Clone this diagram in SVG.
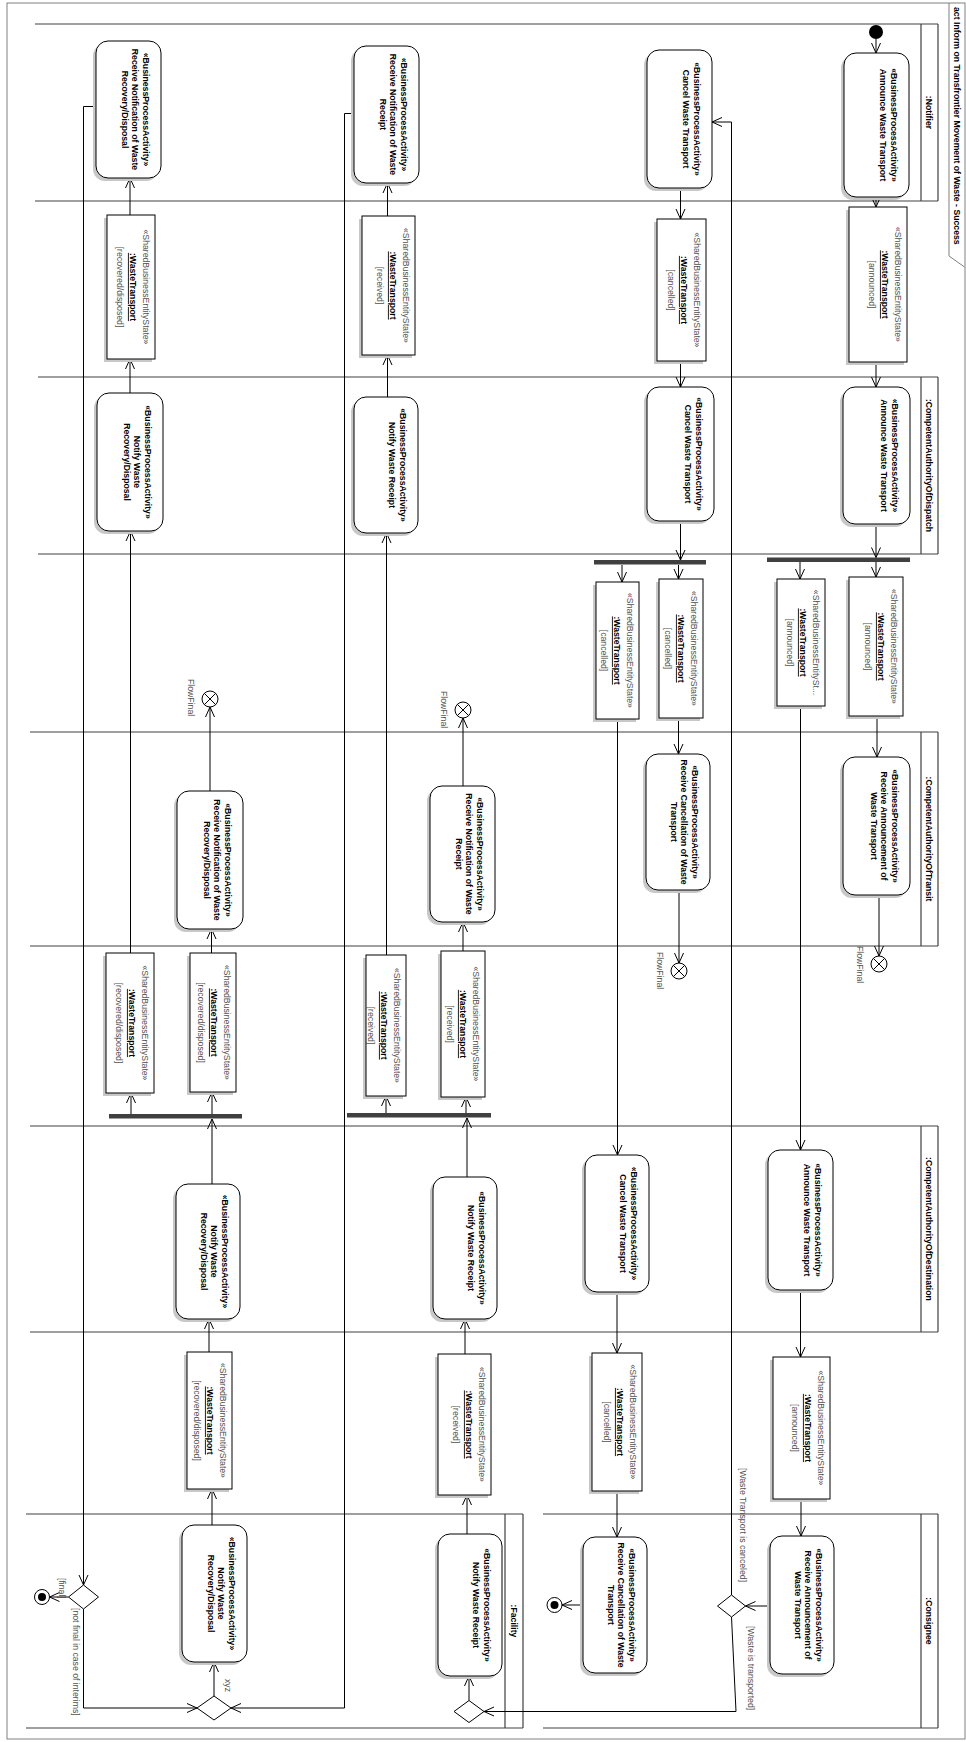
<svg xmlns="http://www.w3.org/2000/svg" width="966" height="1742" viewBox="0 0 966 1742">
<defs>
<style>
.frame{fill:none;stroke:#808080;stroke-width:1}
.lane{fill:none;stroke:#404040;stroke-width:1.2}
.sh{fill:#c8c8c8}
.act{fill:#fff;stroke:#000;stroke-width:1}
.obj{fill:#fff;stroke:#000;stroke-width:1}
.t{font-family:"Liberation Sans",Arial,sans-serif;font-size:8.7px;fill:#000}
.b{font-weight:bold}
.g{fill:#505050}
.u{text-decoration:underline}
.c{fill:none;stroke:#000;stroke-width:1;marker-end:url(#a)}
.bar{fill:#404040}
.ff{fill:#fff;stroke:#000;stroke-width:1}
</style>
<marker id="a" markerUnits="userSpaceOnUse" markerWidth="12" markerHeight="12" viewBox="-11 -6 12 12" refX="0" refY="0" orient="auto"><path d="M-10,-4.5 L0,0 L-10,4.5" fill="none" stroke="#000" stroke-width="1"/></marker>
</defs>
<rect width="966" height="1742" fill="#fff"/>
<g id="frame">
<rect class="frame" x="7" y="3" width="958" height="1736"/>
<path class="frame" d="M949,3 V256 L964.5,267"/>
<text class="t b" transform="rotate(90)" x="7" y="-954" font-size="8.8px">act Inform on Transfrontier Movement of Waste - Success</text>
</g>
<g id="lanes">
<path class="lane" d="M35,24 H938 M35,201 H938 M921,24 V201 M938,24 V201"/>
<path class="lane" d="M38,377 H938 M38,554 H938 M921,377 V554 M938,377 V554"/>
<path class="lane" d="M30,732 H938 M30,946 H938 M921,732 V946 M938,732 V946"/>
<path class="lane" d="M30,1126 H938 M30,1332 H938 M921,1126 V1332 M938,1126 V1332"/>
<path class="lane" d="M26,1514 H523 M26,1728 H523 M505,1514 V1728 M523,1514 V1728"/>
<path class="lane" d="M543,1514 H938 M543,1728 H938 M921,1514 V1728 M938,1514 V1728"/>
<g class="t b" text-anchor="middle">
<text transform="rotate(90)" x="112.5" y="-926.3">:Notifier</text>
<text transform="rotate(90)" x="465.5" y="-926.3">:CompetentAuthorityOfDispatch</text>
<text transform="rotate(90)" x="839" y="-926.3">:CompetentAuthorityOfTransit</text>
<text transform="rotate(90)" x="1229" y="-926.3">:CompetentAuthorityOfDestination</text>
<text transform="rotate(90)" x="1621" y="-510.8">:Facility</text>
<text transform="rotate(90)" x="1621" y="-926.3">:Consignee</text>
</g>
</g>
<g id="connectors">
<path class="c" d="M876,39 V53"/>
<path class="c" d="M876,197 V207"/>
<path class="c" d="M876,362 V387"/>
<path class="c" d="M876,524 V557.5"/>
<path class="c" d="M876,562 V577"/>
<path class="c" d="M800,562 V579"/>
<path class="c" d="M877,716 V757"/>
<path class="c" d="M879,895 V956"/>
<path class="c" d="M800.5,706 V1150"/>
<path class="c" d="M800.5,1290 V1357"/>
<path class="c" d="M801,1499 V1536"/>
<path class="c" d="M770,1606 H745.5"/>
<path class="c" d="M731.5,1595 V122 H712"/>
<path class="c" d="M731.5,1617 L736,1711.5 H484"/>
<path class="c" d="M680.5,188 V219"/>
<path class="c" d="M680.5,361 V387"/>
<path class="c" d="M680.5,521 V560"/>
<path class="c" d="M678.5,565 V579"/>
<path class="c" d="M622,565 V582"/>
<path class="c" d="M678.5,718 V754"/>
<path class="c" d="M679,890 V963"/>
<path class="c" d="M617.5,719 V1155"/>
<path class="c" d="M617,1292 V1353"/>
<path class="c" d="M617,1491 V1537"/>
<path class="c" d="M583,1605 H562"/>
<path class="c" d="M469,1700.5 V1676"/>
<path class="c" d="M467,1534 V1495"/>
<path class="c" d="M465,1354 V1319"/>
<path class="c" d="M467,1177 V1118"/>
<path class="c" d="M466,1113 V1097"/>
<path class="c" d="M386,1113 V1096"/>
<path class="c" d="M463,951 V922"/>
<path class="c" d="M463,786 V718"/>
<path class="c" d="M386.5,955 V533"/>
<path class="c" d="M387.5,397 V355"/>
<path class="c" d="M387.5,216 V183"/>
<path class="c" d="M354,113.5 H344.5 V1708 H231"/>
<path class="c" d="M214,1696 V1662"/>
<path class="c" d="M212,1525 V1489"/>
<path class="c" d="M209,1352 V1319"/>
<path class="c" d="M212,1184 V1119"/>
<path class="c" d="M212,1114 V1092"/>
<path class="c" d="M131,1114 V1093"/>
<path class="c" d="M211.5,953 V929"/>
<path class="c" d="M210,791 V707"/>
<path class="c" d="M130.5,953 V531"/>
<path class="c" d="M130,393 V359"/>
<path class="c" d="M130,215 V178"/>
<path class="c" d="M96,106.5 H83.5 V1585"/>
<path class="c" d="M68.5,1597 H49.5"/>
<path class="c" d="M83.5,1609 V1708 H197"/>
<g class="t g">
<text transform="rotate(90)" x="1468" y="-739.5">[Waste Transport is canceled]</text>
<text transform="rotate(90)" x="1626" y="-747.5">[Waste is transported]</text>
<text transform="rotate(90)" x="1578" y="-58.5">[final]</text>
<text transform="rotate(90)" x="1608" y="-72.5">[not final in case of interims]</text>
<text transform="rotate(90)" x="1679" y="-225">xyz</text>
</g>
</g>
<g id="initial"><circle cx="876" cy="32" r="7" fill="#000"/></g>
<g id="n_announce">
<rect class="sh" x="841" y="56" width="65" height="144" rx="12"/><rect class="act" x="844" y="53" width="65" height="144" rx="12"/>
<text class="t b" transform="rotate(90)" text-anchor="middle"><tspan x="125" y="-891">«BusinessProcessActivity»</tspan><tspan x="125" y="-880.3">Announce Waste Transport</tspan></text>
</g>
<g id="n_cancel">
<rect class="sh" x="644" y="53" width="65" height="138" rx="12"/><rect class="act" x="647" y="50" width="65" height="138" rx="12"/>
<text class="t b" transform="rotate(90)" text-anchor="middle"><tspan x="119" y="-694">«BusinessProcessActivity»</tspan><tspan x="119" y="-683.3">Cancel Waste Transport</tspan></text>
</g>
<g id="n_recv_receipt">
<rect class="sh" x="351" y="49" width="65" height="137" rx="12"/><rect class="act" x="354" y="46" width="65" height="137" rx="12"/>
<text class="t b" transform="rotate(90)" text-anchor="middle"><tspan x="114.5" y="-401">«BusinessProcessActivity»</tspan><tspan x="114.5" y="-390.3">Receive Notification of Waste</tspan><tspan x="114.5" y="-379.6">Receipt</tspan></text>
</g>
<g id="n_recv_recovery">
<rect class="sh" x="93" y="44" width="65" height="137" rx="12"/><rect class="act" x="96" y="41" width="65" height="137" rx="12"/>
<text class="t b" transform="rotate(90)" text-anchor="middle"><tspan x="109.5" y="-143">«BusinessProcessActivity»</tspan><tspan x="109.5" y="-132.3">Receive Notification of Waste</tspan><tspan x="109.5" y="-121.6">Recovery/Disposal</tspan></text>
</g>
<g id="o_ann1">
<rect class="sh" x="846" y="210" width="58" height="155"/><rect class="obj" x="849" y="207" width="58" height="155"/>
<text class="t" transform="rotate(90)" text-anchor="middle"><tspan class="g" x="284.5" y="-894.5">«SharedBusinessEntityState»</tspan><tspan class="b u" x="284.5" y="-881.8">:WasteTransport</tspan><tspan class="g" x="284.5" y="-869.1">[announced]</tspan></text>
</g>
<g id="o_can1">
<rect class="sh" x="654" y="222" width="49" height="142"/><rect class="obj" x="657" y="219" width="49" height="142"/>
<text class="t" transform="rotate(90)" text-anchor="middle"><tspan class="g" x="290" y="-693.5">«SharedBusinessEntityState»</tspan><tspan class="b u" x="290" y="-680.8">:WasteTransport</tspan><tspan class="g" x="290" y="-668.1">[cancelled]</tspan></text>
</g>
<g id="o_rec1">
<rect class="sh" x="359" y="219" width="53" height="139"/><rect class="obj" x="362" y="216" width="53" height="139"/>
<text class="t" transform="rotate(90)" text-anchor="middle"><tspan class="g" x="285.5" y="-402.5">«SharedBusinessEntityState»</tspan><tspan class="b u" x="285.5" y="-389.8">:WasteTransport</tspan><tspan class="g" x="285.5" y="-377.1">[received]</tspan></text>
</g>
<g id="o_rd1">
<rect class="sh" x="104" y="218" width="48" height="144"/><rect class="obj" x="107" y="215" width="48" height="144"/>
<text class="t" transform="rotate(90)" text-anchor="middle"><tspan class="g" x="287" y="-142.5">«SharedBusinessEntityState»</tspan><tspan class="b u" x="287" y="-129.8">:WasteTransport</tspan><tspan class="g" x="287" y="-117.1">[recovered/disposed]</tspan></text>
</g>
<g id="d_announce">
<rect class="sh" x="840" y="390" width="67" height="137" rx="12"/><rect class="act" x="843" y="387" width="67" height="137" rx="12"/>
<text class="t b" transform="rotate(90)" text-anchor="middle"><tspan x="455.5" y="-892">«BusinessProcessActivity»</tspan><tspan x="455.5" y="-881.3">Announce Waste Transport</tspan></text>
</g>
<g id="d_cancel">
<rect class="sh" x="644" y="390" width="67" height="134" rx="12"/><rect class="act" x="647" y="387" width="67" height="134" rx="12"/>
<text class="t b" transform="rotate(90)" text-anchor="middle"><tspan x="454" y="-696">«BusinessProcessActivity»</tspan><tspan x="454" y="-685.3">Cancel Waste Transport</tspan></text>
</g>
<g id="d_notify_receipt">
<rect class="sh" x="351" y="400" width="64" height="136" rx="12"/><rect class="act" x="354" y="397" width="64" height="136" rx="12"/>
<text class="t b" transform="rotate(90)" text-anchor="middle"><tspan x="465" y="-400">«BusinessProcessActivity»</tspan><tspan x="465" y="-389.3">Notify Waste Receipt</tspan></text>
</g>
<g id="d_notify_recovery">
<rect class="sh" x="94" y="396" width="66" height="138" rx="12"/><rect class="act" x="97" y="393" width="66" height="138" rx="12"/>
<text class="t b" transform="rotate(90)" text-anchor="middle"><tspan x="462" y="-145">«BusinessProcessActivity»</tspan><tspan x="462" y="-134.3">Notify Waste</tspan><tspan x="462" y="-123.6">Recovery/Disposal</tspan></text>
</g>
<g id="fork1"><rect class="bar" x="767" y="557.5" width="143" height="4.5"/></g>
<g id="fork2"><rect class="bar" x="594" y="560" width="112" height="4.5"/></g>
<g id="o_ann2">
<rect class="sh" x="846" y="580" width="54" height="139"/><rect class="obj" x="849" y="577" width="54" height="139"/>
<text class="t" transform="rotate(90)" text-anchor="middle"><tspan class="g" x="646.5" y="-890.5">«SharedBusinessEntityState»</tspan><tspan class="b u" x="646.5" y="-877.8">:WasteTransport</tspan><tspan class="g" x="646.5" y="-865.1">[announced]</tspan></text>
</g>
<g id="o_ann3">
<rect class="sh" x="774" y="582" width="48" height="127"/><rect class="obj" x="777" y="579" width="48" height="127"/>
<text class="t" transform="rotate(90)" text-anchor="middle"><tspan class="g" x="642.5" y="-812.5">«SharedBusinessEntitySt...</tspan><tspan class="b u" x="642.5" y="-799.8">:WasteTransport</tspan><tspan class="g" x="642.5" y="-787.1">[announced]</tspan></text>
</g>
<g id="o_can2">
<rect class="sh" x="656" y="582" width="44" height="139"/><rect class="obj" x="659" y="579" width="44" height="139"/>
<text class="t" transform="rotate(90)" text-anchor="middle"><tspan class="g" x="648.5" y="-690.5">«SharedBusinessEntityState»</tspan><tspan class="b u" x="648.5" y="-677.8">:WasteTransport</tspan><tspan class="g" x="648.5" y="-665.1">[cancelled]</tspan></text>
</g>
<g id="o_can3">
<rect class="sh" x="593" y="585" width="43" height="137"/><rect class="obj" x="596" y="582" width="43" height="137"/>
<text class="t" transform="rotate(90)" text-anchor="middle"><tspan class="g" x="650.5" y="-626.5">«SharedBusinessEntityState»</tspan><tspan class="b u" x="650.5" y="-613.8">:WasteTransport</tspan><tspan class="g" x="650.5" y="-601.1">[cancelled]</tspan></text>
</g>
<g id="ff_receipt">
<circle class="ff" cx="463" cy="710" r="8"/><path d="M457.3,704.3 L468.7,715.7 M468.7,704.3 L457.3,715.7" stroke="#000"/>
<text class="t g" transform="rotate(90)" x="691" y="-441">FlowFinal</text>
</g>
<g id="ff_recovery">
<circle class="ff" cx="210" cy="699" r="8"/><path d="M204.3,693.3 L215.7,704.7 M215.7,693.3 L204.3,704.7" stroke="#000"/>
<text class="t g" transform="rotate(90)" x="679" y="-187.5">FlowFinal</text>
</g>
<g id="t_recv_announcement">
<rect class="sh" x="840" y="760" width="67" height="138" rx="12"/><rect class="act" x="843" y="757" width="67" height="138" rx="12"/>
<text class="t b" transform="rotate(90)" text-anchor="middle"><tspan x="826" y="-892">«BusinessProcessActivity»</tspan><tspan x="826" y="-881.3">Receive Announcement of</tspan><tspan x="826" y="-870.6">Waste Transport</tspan></text>
</g>
<g id="t_recv_cancellation">
<rect class="sh" x="643" y="757" width="64" height="136" rx="12"/><rect class="act" x="646" y="754" width="64" height="136" rx="12"/>
<text class="t b" transform="rotate(90)" text-anchor="middle"><tspan x="822" y="-692">«BusinessProcessActivity»</tspan><tspan x="822" y="-681.3">Receive Cancellation of Waste</tspan><tspan x="822" y="-670.6">Transport</tspan></text>
</g>
<g id="t_recv_receipt">
<rect class="sh" x="427" y="789" width="65" height="136" rx="12"/><rect class="act" x="430" y="786" width="65" height="136" rx="12"/>
<text class="t b" transform="rotate(90)" text-anchor="middle"><tspan x="854" y="-477">«BusinessProcessActivity»</tspan><tspan x="854" y="-466.3">Receive Notification of Waste</tspan><tspan x="854" y="-455.6">Receipt</tspan></text>
</g>
<g id="t_recv_recovery">
<rect class="sh" x="174" y="794" width="66" height="138" rx="12"/><rect class="act" x="177" y="791" width="66" height="138" rx="12"/>
<text class="t b" transform="rotate(90)" text-anchor="middle"><tspan x="860" y="-225">«BusinessProcessActivity»</tspan><tspan x="860" y="-214.3">Receive Notification of Waste</tspan><tspan x="860" y="-203.6">Recovery/Disposal</tspan></text>
</g>
<g id="ff_cancel">
<circle class="ff" cx="679" cy="971" r="8"/><path d="M673.3,965.3 L684.7,976.7 M684.7,965.3 L673.3,976.7" stroke="#000"/>
<text class="t g" transform="rotate(90)" x="952" y="-657">FlowFinal</text>
</g>
<g id="ff_announce">
<circle class="ff" cx="879" cy="964" r="8"/><path d="M873.3,958.3 L884.7,969.7 M884.7,958.3 L873.3,969.7" stroke="#000"/>
<text class="t g" transform="rotate(90)" x="946" y="-857">FlowFinal</text>
</g>
<g id="o_rd2">
<rect class="sh" x="103" y="956" width="48" height="140"/><rect class="obj" x="106" y="953" width="48" height="140"/>
<text class="t" transform="rotate(90)" text-anchor="middle"><tspan class="g" x="1023" y="-141.5">«SharedBusinessEntityState»</tspan><tspan class="b u" x="1023" y="-128.8">:WasteTransport</tspan><tspan class="g" x="1023" y="-116.1">[recovered/disposed]</tspan></text>
</g>
<g id="o_rd3">
<rect class="sh" x="187" y="956" width="46" height="139"/><rect class="obj" x="190" y="953" width="46" height="139"/>
<text class="t" transform="rotate(90)" text-anchor="middle"><tspan class="g" x="1022.5" y="-223.5">«SharedBusinessEntityState»</tspan><tspan class="b u" x="1022.5" y="-210.8">:WasteTransport</tspan><tspan class="g" x="1022.5" y="-198.1">[recovered/disposed]</tspan></text>
</g>
<g id="o_rec2">
<rect class="sh" x="363" y="958" width="40" height="141"/><rect class="obj" x="366" y="955" width="40" height="141"/>
<text class="t" transform="rotate(90)" text-anchor="middle"><tspan class="g" x="1025.5" y="-393.5">«SharedBusinessEntityState»</tspan><tspan class="b u" x="1025.5" y="-380.8">:WasteTransport</tspan><tspan class="g" x="1025.5" y="-368.1">[received]</tspan></text>
</g>
<g id="o_rec3">
<rect class="sh" x="438" y="954" width="44" height="146"/><rect class="obj" x="441" y="951" width="44" height="146"/>
<text class="t" transform="rotate(90)" text-anchor="middle"><tspan class="g" x="1024" y="-472.5">«SharedBusinessEntityState»</tspan><tspan class="b u" x="1024" y="-459.8">:WasteTransport</tspan><tspan class="g" x="1024" y="-447.1">[received]</tspan></text>
</g>
<g id="fork3"><rect class="bar" x="109" y="1114" width="133" height="4.5"/></g>
<g id="fork4"><rect class="bar" x="347" y="1113" width="144" height="4.5"/></g>
<g id="dest_announce">
<rect class="sh" x="765" y="1153" width="65" height="140" rx="12"/><rect class="act" x="768" y="1150" width="65" height="140" rx="12"/>
<text class="t b" transform="rotate(90)" text-anchor="middle"><tspan x="1220" y="-815">«BusinessProcessActivity»</tspan><tspan x="1220" y="-804.3">Announce Waste Transport</tspan></text>
</g>
<g id="dest_cancel">
<rect class="sh" x="582" y="1158" width="64" height="137" rx="12"/><rect class="act" x="585" y="1155" width="64" height="137" rx="12"/>
<text class="t b" transform="rotate(90)" text-anchor="middle"><tspan x="1223.5" y="-631">«BusinessProcessActivity»</tspan><tspan x="1223.5" y="-620.3">Cancel Waste Transport</tspan></text>
</g>
<g id="dest_notify_receipt">
<rect class="sh" x="430" y="1180" width="64" height="142" rx="12"/><rect class="act" x="433" y="1177" width="64" height="142" rx="12"/>
<text class="t b" transform="rotate(90)" text-anchor="middle"><tspan x="1248" y="-479">«BusinessProcessActivity»</tspan><tspan x="1248" y="-468.3">Notify Waste Receipt</tspan></text>
</g>
<g id="dest_notify_recovery">
<rect class="sh" x="173" y="1187" width="64" height="135" rx="12"/><rect class="act" x="176" y="1184" width="64" height="135" rx="12"/>
<text class="t b" transform="rotate(90)" text-anchor="middle"><tspan x="1251.5" y="-222">«BusinessProcessActivity»</tspan><tspan x="1251.5" y="-211.3">Notify Waste</tspan><tspan x="1251.5" y="-200.6">Recovery/Disposal</tspan></text>
</g>
<g id="o_rd4">
<rect class="sh" x="184" y="1355" width="45" height="137"/><rect class="obj" x="187" y="1352" width="45" height="137"/>
<text class="t" transform="rotate(90)" text-anchor="middle"><tspan class="g" x="1420.5" y="-219.5">«SharedBusinessEntityState»</tspan><tspan class="b u" x="1420.5" y="-206.8">:WasteTransport</tspan><tspan class="g" x="1420.5" y="-194.1">[recovered/disposed]</tspan></text>
</g>
<g id="o_rec4">
<rect class="sh" x="435" y="1357" width="53" height="141"/><rect class="obj" x="438" y="1354" width="53" height="141"/>
<text class="t" transform="rotate(90)" text-anchor="middle"><tspan class="g" x="1424.5" y="-478.5">«SharedBusinessEntityState»</tspan><tspan class="b u" x="1424.5" y="-465.8">:WasteTransport</tspan><tspan class="g" x="1424.5" y="-453.1">[received]</tspan></text>
</g>
<g id="o_can4">
<rect class="sh" x="589" y="1356" width="50" height="138"/><rect class="obj" x="592" y="1353" width="50" height="138"/>
<text class="t" transform="rotate(90)" text-anchor="middle"><tspan class="g" x="1422" y="-629.5">«SharedBusinessEntityState»</tspan><tspan class="b u" x="1422" y="-616.8">:WasteTransport</tspan><tspan class="g" x="1422" y="-604.1">[cancelled]</tspan></text>
</g>
<g id="o_ann4">
<rect class="sh" x="770" y="1360" width="57" height="142"/><rect class="obj" x="773" y="1357" width="57" height="142"/>
<text class="t" transform="rotate(90)" text-anchor="middle"><tspan class="g" x="1428" y="-817.5">«SharedBusinessEntityState»</tspan><tspan class="b u" x="1428" y="-804.8">:WasteTransport</tspan><tspan class="g" x="1428" y="-792.1">[announced]</tspan></text>
</g>
<g id="f_notify_recovery">
<rect class="sh" x="179" y="1528" width="65" height="137" rx="12"/><rect class="act" x="182" y="1525" width="65" height="137" rx="12"/>
<text class="t b" transform="rotate(90)" text-anchor="middle"><tspan x="1593.5" y="-229">«BusinessProcessActivity»</tspan><tspan x="1593.5" y="-218.3">Notify Waste</tspan><tspan x="1593.5" y="-207.6">Recovery/Disposal</tspan></text>
</g>
<g id="f_notify_receipt">
<rect class="sh" x="435" y="1537" width="64" height="142" rx="12"/><rect class="act" x="438" y="1534" width="64" height="142" rx="12"/>
<text class="t b" transform="rotate(90)" text-anchor="middle"><tspan x="1605" y="-484">«BusinessProcessActivity»</tspan><tspan x="1605" y="-473.3">Notify Waste Receipt</tspan></text>
</g>
<g id="c_recv_cancellation">
<rect class="sh" x="580" y="1540" width="64" height="136" rx="12"/><rect class="act" x="583" y="1537" width="64" height="136" rx="12"/>
<text class="t b" transform="rotate(90)" text-anchor="middle"><tspan x="1605" y="-629">«BusinessProcessActivity»</tspan><tspan x="1605" y="-618.3">Receive Cancellation of Waste</tspan><tspan x="1605" y="-607.6">Transport</tspan></text>
</g>
<g id="c_recv_announcement">
<rect class="sh" x="767" y="1539" width="64" height="138" rx="12"/><rect class="act" x="770" y="1536" width="64" height="138" rx="12"/>
<text class="t b" transform="rotate(90)" text-anchor="middle"><tspan x="1605" y="-816">«BusinessProcessActivity»</tspan><tspan x="1605" y="-805.3">Receive Announcement of</tspan><tspan x="1605" y="-794.6">Waste Transport</tspan></text>
</g>
<g id="dec_merge_recovery"><path class="ff" d="M214,1696 L231,1708 L214,1720 L197,1708 Z"/></g>
<g id="dec_final"><path class="ff" d="M83.5,1585 L98.5,1597 L83.5,1609 L68.5,1597 Z"/></g>
<g id="dec_merge_receipt"><path class="ff" d="M469,1700.5 L484,1711.5 L469,1722.5 L454,1711.5 Z"/></g>
<g id="dec_consignee"><path class="ff" d="M731.5,1595 L745.5,1606 L731.5,1617 L717.5,1606 Z"/></g>
<g id="final1"><circle class="ff" cx="42" cy="1597" r="7.5"/><circle cx="42" cy="1597" r="4" fill="#000"/></g>
<g id="final2"><circle class="ff" cx="554.5" cy="1605" r="7.5"/><circle cx="554.5" cy="1605" r="4" fill="#000"/></g>
</svg>
